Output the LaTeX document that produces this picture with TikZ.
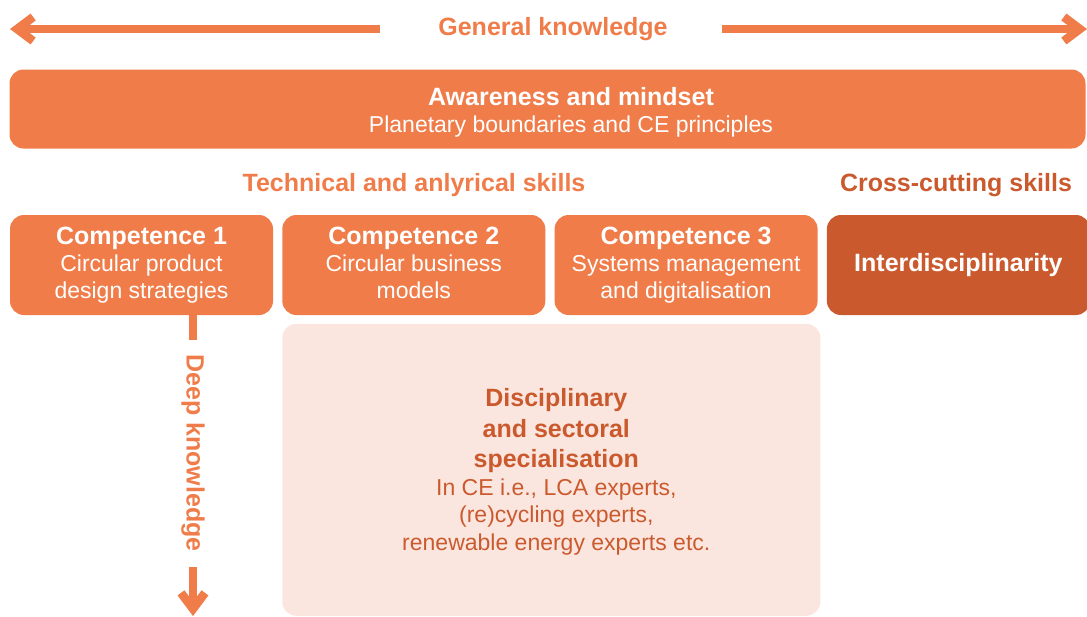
\documentclass[tikz,border=0pt]{standalone}
\usepackage{fontspec}
\setmainfont{Liberation Sans}
\usetikzlibrary{arrows.meta,positioning}

\definecolor{ceorange}{HTML}{EF7C49}
\definecolor{cedark}{HTML}{CA5A2E}
\definecolor{cepale}{HTML}{FBE6DF}

\newcommand{\hd}[1]{{\fontsize{12.5}{14}\selectfont\bfseries #1}}

\tikzset{
  bold/.style={font=\fontsize{12.5}{14}\selectfont\bfseries},
  body/.style={font=\fontsize{11.5}{13.5}\selectfont},
  box/.style={body, fill=ceorange, text=white, rounded corners=7pt, align=center,
    inner sep=0pt, minimum width=131.5pt, minimum height=50pt},
  bigarrow/.style={ceorange, line width=4.3pt,
    -{Straight Barb[length=8pt,width=12pt,sharp]}},
}

\begin{document}
\begin{tikzpicture}[x=0.5pt,y=-0.5pt]
\useasboundingbox (0,0) rectangle (1087,616);
\clip (0,0) rectangle (1087,616);

% general knowledge, both ways
\node[bold, text=ceorange] (gen) at (553,29) {General knowledge};
\coordinate (genL) at (380,29);
\coordinate (genLend) at (10,29);
\coordinate (genR) at (722,29);
\coordinate (genRend) at (1087,29);
\draw[bigarrow] (genL) -- (genLend);
\draw[bigarrow] (genR) -- (genRend);

% top bar
\node[box, minimum width=538pt, minimum height=39.5pt] (aware) at (547.5,109) {};
\node[body, text=white, align=center] (awaretxt) at (571,112)
  {\hd{Awareness and mindset}\\Planetary boundaries and CE principles};

% column headings
\node[bold, text=ceorange] (tech) at (414,185) {Technical and anlyrical skills};
\node[bold, text=cedark] (cross) at (956,185) {Cross-cutting skills};

% competences
\node[box] (comp1) at (141.5,265)
  {\hd{Competence 1}\\Circular product\\design strategies};
\node[box, right=4.25pt of comp1] (comp2)
  {\hd{Competence 2}\\Circular business\\models\vphantom{g}};
\node[box, right=4.25pt of comp2] (comp3)
  {\hd{Competence 3}\\Systems management\\and digitalisation};
\node[box, right=4.25pt of comp3, fill=cedark] (inter)
  {\hd{Interdisciplinarity}};

% specialisation
\node[fill=cepale, rounded corners=7pt, inner sep=0pt, minimum width=269pt,
  minimum height=146pt, anchor=north west] (spec) at ([yshift=-4pt]comp2.south west) {};
\node[text=cedark, align=center, font=\fontsize{11.5}{13.75}\selectfont]
  (spectxt) at ([xshift=2.5pt,yshift=-1pt]spec.center)
  {\hd{Disciplinary}\\[1.5pt]\hd{and sectoral}\\[1.5pt]\hd{specialisation}\\
   In CE i.e., LCA experts,\\(re)cycling experts,\\renewable energy experts etc.};

% deep knowledge, downwards
\coordinate (deepA) at (193,340);
\coordinate (deepB) at (193,567);
\coordinate (deepend) at (193,616);
\draw[ceorange, line width=4.3pt] (deepA |- comp1.south) -- (deepA);
\node[bold, text=ceorange, rotate=-90] (deep) at (193,453) {Deep knowledge};
\draw[bigarrow] (deepB) -- (deepend);
\end{tikzpicture}
\end{document}
